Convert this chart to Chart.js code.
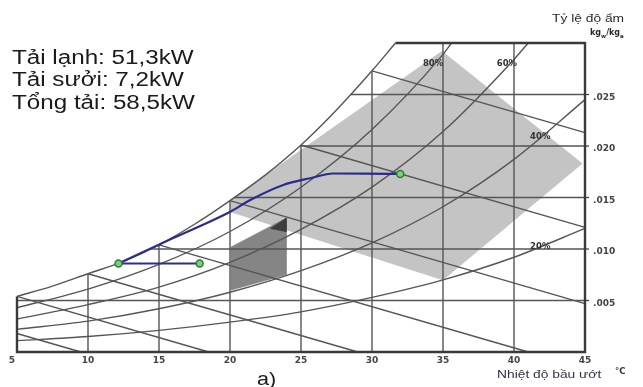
<!DOCTYPE html>
<html>
<head>
<meta charset="utf-8">
<script src="https://cdn.jsdelivr.net/npm/chart.js@4.4.0/dist/chart.umd.min.js"></script>
<style>
  html, body { margin: 0; padding: 0; background: #fff; }
  #wrap { width: 643px; height: 387px; }
</style>
</head>
<body>
<div id="wrap"><canvas id="psyChart" width="643" height="387"></canvas></div>
<script>
// axes
const xTicks = [5, 10, 15, 20, 25, 30, 35, 40, 45];
const yTicks = [0.005, 0.010, 0.015, 0.020, 0.025];
const yTickLabels = ['.005', '.010', '.015', '.020', '.025'];

// saturation curve (100%)
const satT = [5, 7.5, 10, 12.5, 15, 17.5, 20, 22.5, 25, 27.5, 30, 31.65];
const satW = [0.0054, 0.0064, 0.0076, 0.0088, 0.0104, 0.0124, 0.0147, 0.0172, 0.0201, 0.0235, 0.0273, 0.0300];

// relative humidity curves
const rhT = [5, 10, 15, 20, 25, 30, 35, 40, 45];
const rh80T = [5, 10, 15, 20, 25, 30, 35, 35.6];
const rh80W = [0.0043, 0.0061, 0.0085, 0.0117, 0.0160, 0.0216, 0.0289, 0.0300];
const rh60T = [5, 10, 15, 20, 25, 30, 35, 40, 41.0];
const rh60W = [0.0032, 0.0046, 0.0063, 0.0087, 0.0119, 0.0160, 0.0214, 0.0284, 0.0300];
const rh40W = [0.0022, 0.0030, 0.0042, 0.0058, 0.0079, 0.0106, 0.0141, 0.0187, 0.0245];
const rh20W = [0.0011, 0.0015, 0.0021, 0.0029, 0.0039, 0.0053, 0.0070, 0.0092, 0.0120];
const rhLabels = ['80%', '60%', '40%', '20%'];
const rhLabelT = [34.3, 39.5, 41.85, 41.85];
const rhLabelW = [0.0280, 0.0280, 0.0209, 0.0102];

// dry bulb verticals
const vertT = [10, 15, 20, 25, 30, 35, 40];
const vertTop = [0.0076, 0.0104, 0.0147, 0.0201, 0.0273, 0.030, 0.030];

// humidity ratio horizontals
const horizW = [0.005, 0.010, 0.015, 0.020, 0.025];
const horizStart = [5, 14.4, 20.3, 24.95, 28.5];

// wet bulb lines
const wbStartT = [5, 5, 10, 15, 20, 25, 30];
const wbStartW = [0.0018, 0.0054, 0.0076, 0.0104, 0.0147, 0.0201, 0.0273];
const wbEndT = [9.5, 18.5, 29, 41, 45, 45, 45];
const wbEndW = [0, 0, 0, 0, 0.0047, 0.0121, 0.0213];

// comfort zone + supply zone
const zoneT = [20.05, 34.93, 44.8, 35.0, 20.05, 20.05];
const zoneW = [0.0148, 0.0292, 0.0183, 0.0070, 0.0136, 0.0148];
const boxT = [20.07, 23.96, 23.96, 20.07, 20.07];
const boxW = [0.0102, 0.0130, 0.0075, 0.0060, 0.0102];
const cornerT = [22.84, 23.96, 23.96, 22.84];
const cornerW = [0.0120, 0.0130, 0.01167, 0.0120];

// process
const procT = [12.15, 16, 20.02, 21.43, 23.75, 25.65, 27.27, 29.5, 31.99];
const procW = [0.0086, 0.01106, 0.01362, 0.01476, 0.01622, 0.01687, 0.01733, 0.01732, 0.01729];
const heatT = [12.15, 17.86];
const heatW = [0.0086, 0.0086];
const stateT = [12.15, 17.86, 31.99];
const stateW = [0.0086, 0.0086, 0.01729];

const infoLines = ['Tải lạnh: 51,3kW', 'Tải sưởi: 7,2kW', 'Tổng tải: 58,5kW'];

const GRID = '#555';
const pts = (ts, ws) => ts.map((t, i) => ({ x: t, y: ws[i] }));

function line(data, extra) {
    return Object.assign({
        data: data,
        showLine: true,
        pointRadius: 0,
        borderColor: GRID,
        borderWidth: 1.4,
        tension: 0,
        fill: false,
        clip: false,
        order: 5,
    }, extra);
}

const datasets = [];
// marks on top
datasets.push({
    data: pts(stateT, stateW), showLine: false, pointRadius: 3.5,
    pointBackgroundColor: '#7ccf7c', pointBorderColor: '#2f7d3a', pointBorderWidth: 1.5,
    clip: false, order: 0,
});
datasets.push(line(pts(procT, procW), { borderColor: '#2c2c8e', borderWidth: 2.2, cubicInterpolationMode: 'monotone', order: 1 }));
datasets.push(line(pts(heatT, heatW), { borderColor: '#2c2c8e', borderWidth: 2, order: 1 }));

// grid
datasets.push(line(pts(satT, satW), { cubicInterpolationMode: 'monotone' }));
datasets.push(line(pts(rh80T, rh80W), { cubicInterpolationMode: 'monotone' }));
datasets.push(line(pts(rh60T, rh60W), { cubicInterpolationMode: 'monotone' }));
datasets.push(line(pts(rhT, rh40W), { cubicInterpolationMode: 'monotone' }));
datasets.push(line(pts(rhT, rh20W), { cubicInterpolationMode: 'monotone' }));
vertT.forEach((t, i) => datasets.push(line([{ x: t, y: 0 }, { x: t, y: vertTop[i] }])));
horizW.forEach((w, i) => datasets.push(line([{ x: horizStart[i], y: w }, { x: 45, y: w }])));
wbStartT.forEach((t, i) => datasets.push(line([{ x: t, y: wbStartW[i] }, { x: wbEndT[i], y: wbEndW[i] }])));

// frame
datasets.push(line([{ x: 5, y: satW[0] }, { x: 5, y: 0 }, { x: 45, y: 0 }, { x: 45, y: 0.030 }, { x: satT[satT.length - 1], y: 0.030 }],
    { borderColor: '#3a3a3a', borderWidth: 2.4, order: 4 }));

// zones (bottom)
datasets.push(line(pts(cornerT, cornerW), { borderColor: '#3c3c3c', borderWidth: 0.5, backgroundColor: '#3c3c3c', fill: 'shape', order: 8 }));
datasets.push(line(pts(boxT, boxW), { borderColor: '#858585', borderWidth: 0.5, backgroundColor: '#858585', fill: 'shape', order: 9 }));
datasets.push(line(pts(zoneT, zoneW), { borderColor: '#bdbdbd', borderWidth: 0.5, backgroundColor: '#c4c4c4', fill: 'shape', order: 10 }));

function wideText(ctx, str, px, py, sx) {
    ctx.save();
    ctx.translate(px, py);
    ctx.scale(sx, 1);
    ctx.fillText(str, 0, 0);
    ctx.restore();
}

const textPlugin = {
    id: 'psyText',
    afterDraw(chart) {
        const { ctx } = chart;
        const x = chart.scales.x, y = chart.scales.y;
        ctx.save();

        // tick labels
        ctx.fillStyle = '#444';
        ctx.font = 'bold 9px "DejaVu Sans"';
        ctx.textAlign = 'center';
        ctx.textBaseline = 'middle';
        xTicks.forEach(t => ctx.fillText(String(t), x.getPixelForValue(t) - (t === 5 ? 5 : 0), y.getPixelForValue(0) + 9));
        ctx.textAlign = 'left';
        const xr = x.getPixelForValue(45);
        yTicks.forEach((w, i) => {
            const py = y.getPixelForValue(w);
            ctx.fillText(yTickLabels[i], xr + 8, py + 3);
            ctx.strokeStyle = '#3a3a3a';
            ctx.lineWidth = 1.2;
            ctx.beginPath(); ctx.moveTo(xr, py); ctx.lineTo(xr + 4, py); ctx.stroke();
        });

        // rh labels
        ctx.font = 'bold 8.5px "DejaVu Sans"';
        ctx.fillStyle = '#333';
        ctx.textAlign = 'center';
        rhLabels.forEach((s, i) => ctx.fillText(s, x.getPixelForValue(rhLabelT[i]), y.getPixelForValue(rhLabelW[i])));

        // load summary
        ctx.fillStyle = '#1a1a1a';
        ctx.textAlign = 'left';
        ctx.textBaseline = 'alphabetic';
        ctx.font = '20px "Liberation Sans"';
        infoLines.forEach((s, i) => wideText(ctx, s, 12, 63.5 + i * 22.5, 1.21));

        // axis titles
        ctx.fillStyle = '#2a2a2a';
        ctx.font = '11.5px "Liberation Sans"';
        wideText(ctx, 'Tỷ lệ độ ẩm', 552, 22, 1.2);
        ctx.font = 'bold 8px "DejaVu Sans"';
        ctx.fillText('kg', 590, 35);
        let cx = 590 + ctx.measureText('kg').width;
        ctx.font = 'bold 5.5px "DejaVu Sans"';
        ctx.fillText('w', cx, 38);
        cx += ctx.measureText('w').width;
        ctx.font = 'bold 8px "DejaVu Sans"';
        ctx.fillText('/kg', cx, 35);
        cx += ctx.measureText('/kg').width;
        ctx.font = 'bold 5.5px "DejaVu Sans"';
        ctx.fillText('a', cx, 38);

        ctx.fillStyle = '#33334a';
        ctx.font = '11.5px "Liberation Sans"';
        wideText(ctx, 'Nhiệt độ bầu ướt', 497, 378, 1.2);
        ctx.fillStyle = '#333';
        ctx.font = 'bold 8.5px "DejaVu Sans"';
        ctx.fillText('°C', 615, 374);

        ctx.fillStyle = '#1a1a1a';
        ctx.font = '18px "Liberation Sans"';
        wideText(ctx, 'a)', 257, 385, 1.2);

        ctx.restore();
    }
};

new Chart(document.getElementById('psyChart'), {
    type: 'scatter',
    data: { datasets: datasets },
    options: {
        responsive: false,
        animation: false,
        events: [],
        layout: { padding: { left: 17, right: 58, top: 43, bottom: 35 } },
        scales: {
            x: { type: 'linear', min: 5, max: 45, display: false },
            y: { type: 'linear', min: 0, max: 0.030, display: false },
        },
        plugins: {
            legend: { display: false },
            tooltip: { enabled: false },
        },
    },
    plugins: [textPlugin],
});
</script>
</body>
</html>
